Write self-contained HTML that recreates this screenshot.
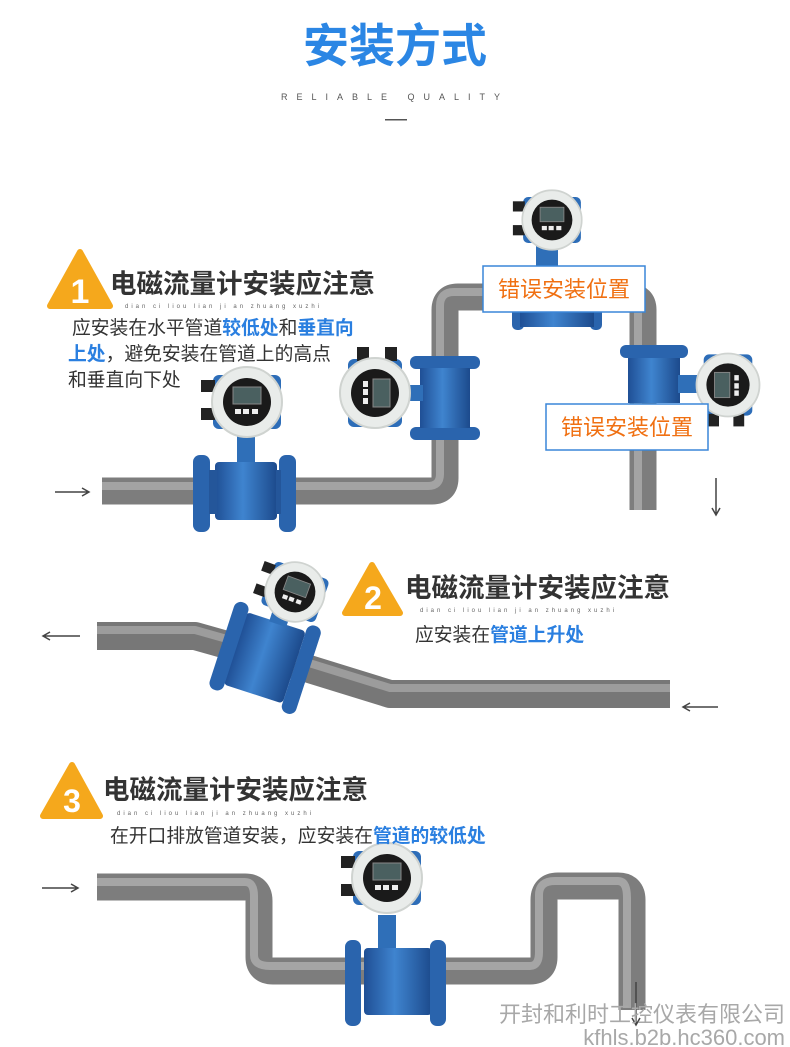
<!DOCTYPE html>
<html><head><meta charset="utf-8"><style>
html,body{margin:0;padding:0;background:#fff}
svg{display:block}
.cn{font-family:"Liberation Sans","Noto Sans CJK SC",sans-serif}
</style></head><body>
<svg width="790" height="1047" viewBox="0 0 790 1047" xmlns="http://www.w3.org/2000/svg" class="cn">
<defs>
<linearGradient id="bl" x1="0" x2="1" y1="0" y2="0"><stop offset="0" stop-color="#1f4f95"/><stop offset="0.45" stop-color="#3f84cf"/><stop offset="1" stop-color="#1c4a8c"/></linearGradient>
<g id="head">
  <rect x="-34" y="-27" width="68" height="54" rx="6" fill="#2d6db8"/>
  <rect x="-46" y="-22" width="14" height="12" fill="#222"/>
  <rect x="-46" y="6" width="14" height="12" fill="#222"/>
  <circle r="35" fill="#e9ecea" stroke="#cfd3d0" stroke-width="2"/>
  <circle r="24" fill="#1a1a1a"/>
  <rect x="-14" y="-15" width="28" height="17" fill="#4a6060" stroke="#888" stroke-width="1"/>
  <rect x="-12" y="7" width="6" height="5" fill="#eee"/><rect x="-4" y="7" width="6" height="5" fill="#eee"/>
  <rect x="5" y="7" width="6" height="5" fill="#eee"/>
</g>
</defs>

<!-- Title -->
<text x="395" y="62" text-anchor="middle" font-size="46" font-weight="bold" fill="#2b86e4">安装方式</text>
<text x="395" y="100" text-anchor="middle" font-size="9" fill="#555" letter-spacing="9">RELIABLE  QUALITY</text>
<rect x="385" y="119" width="22" height="1.5" fill="#555"/>

<!-- Section 1 pipe -->
<path d="M102 491 H432 Q445 491 445 478 V310 Q445 297 458 297 H630 Q643 297 643 310 V510" fill="none" stroke="#7d7d7d" stroke-width="27"/>
<path d="M102 486 H428 Q440 486 440 474 V306 Q440 292 454 292 H630 Q638 292 638 305 V510" fill="none" stroke="#a3a3a3" stroke-width="8"/>
<path d="M55 492 H88 M82 488 L89 492 L82 496" stroke="#444" stroke-width="1.5" fill="none"/>
<path d="M716 478 V514 M712 508 L716 515 L720 508" stroke="#444" stroke-width="1.5" fill="none"/>

<!-- Meter 1 -->
<rect x="237" y="435" width="18" height="30" fill="#2f6fb8"/>
<rect x="215" y="462" width="62" height="58" rx="4" fill="url(#bl)"/>
<rect x="193" y="455" width="17" height="77" rx="7" fill="#2a64ad"/>
<rect x="279" y="455" width="17" height="77" rx="7" fill="#2a64ad"/>
<rect x="209" y="470" width="8" height="44" fill="#24569a"/><rect x="276" y="470" width="5" height="44" fill="#24569a"/>
<use href="#head" x="247" y="402"/>

<!-- Meter 2 -->
<rect x="410" y="356" width="70" height="13" rx="6" fill="#2a64ad"/>
<rect x="410" y="427" width="70" height="13" rx="6" fill="#2a64ad"/>
<rect x="420" y="368" width="50" height="60" fill="url(#bl)"/>
<rect x="395" y="385" width="28" height="16" fill="#2f6fb8"/>
<g transform="translate(375,393) rotate(90)"><use href="#head"/></g>

<!-- Meter 3 top -->
<rect x="536" y="245" width="22" height="30" fill="#2f6fb8"/>
<rect x="512" y="300" width="12" height="30" rx="5" fill="#2a64ad"/>
<rect x="590" y="300" width="12" height="30" rx="5" fill="#2a64ad"/>
<rect x="520" y="305" width="74" height="22" fill="url(#bl)"/>
<g transform="translate(552,220) scale(0.85)"><use href="#head"/></g>

<!-- Meter 4 -->
<rect x="620" y="345" width="68" height="13" rx="6" fill="#2a64ad"/>
<rect x="628" y="358" width="52" height="45" fill="url(#bl)"/>
<rect x="678" y="375" width="25" height="18" fill="#2f6fb8"/>
<g transform="translate(728,385) rotate(-90) scale(0.9)"><use href="#head"/></g>

<!-- Error boxes -->
<rect x="483" y="266" width="162" height="46" fill="#fff" stroke="#3a86d8" stroke-width="1.5"/>
<text x="564" y="297" text-anchor="middle" font-size="22" fill="#f07012">错误安装位置</text>
<rect x="546" y="404" width="162" height="46" fill="#fff" stroke="#3a86d8" stroke-width="1.5"/>
<text x="627" y="435" text-anchor="middle" font-size="22" fill="#f07012">错误安装位置</text>

<!-- Section 1 heading -->
<path d="M80 252 L110 306 H50 Z" fill="#f5a81c" stroke="#f5a81c" stroke-width="6" stroke-linejoin="round"/>
<text x="80" y="303" text-anchor="middle" font-size="34" font-weight="bold" fill="#fff">1</text>
<text x="110" y="293" font-size="26.5" font-weight="bold" fill="#333">电磁流量计安装应注意</text>
<text x="125" y="308" font-size="6" fill="#666" letter-spacing="3">dian ci liou lian ji an zhuang xuzhi</text>
<text x="72" y="334" font-size="18.8" fill="#333">应安装在水平管道<tspan fill="#2a7fe0" font-weight="bold">较低处</tspan>和<tspan fill="#2a7fe0" font-weight="bold">垂直向</tspan></text>
<text x="68" y="360" font-size="18.8" fill="#333"><tspan fill="#2a7fe0" font-weight="bold">上处</tspan>，避免安装在管道上的高点</text>
<text x="68" y="386" font-size="18.8" fill="#333">和垂直向下处</text>

<!-- Section 2 -->
<path d="M97 636 H195 L280 660 L390 694 H670" fill="none" stroke="#777" stroke-width="28" stroke-linejoin="round"/>
<path d="M97 630 H195 L280 654 L390 688 H670" fill="none" stroke="#9c9c9c" stroke-width="8" stroke-linejoin="round"/>
<path d="M80 636 H44 M50 632 L43 636 L50 640" stroke="#444" stroke-width="1.5" fill="none"/>
<path d="M718 707 H684 M690 703 L683 707 L690 711" stroke="#444" stroke-width="1.5" fill="none"/>
<g transform="translate(265,660) rotate(18)">
  <rect x="-32" y="-40" width="62" height="76" rx="4" fill="url(#bl)"/>
  <rect x="-46" y="-48" width="15" height="92" rx="7" fill="#2a64ad"/>
  <rect x="30" y="-48" width="15" height="92" rx="7" fill="#2a64ad"/>
  <rect x="-8" y="-70" width="18" height="32" fill="#2f6fb8"/>
</g>
<g transform="translate(295,592) rotate(20) scale(0.85)"><use href="#head"/></g>
<path d="M372 565 L400 613 H345 Z" fill="#f5a81c" stroke="#f5a81c" stroke-width="6" stroke-linejoin="round"/>
<text x="373" y="609" text-anchor="middle" font-size="32" font-weight="bold" fill="#fff">2</text>
<text x="405" y="597" font-size="26.5" font-weight="bold" fill="#333">电磁流量计安装应注意</text>
<text x="420" y="612" font-size="6" fill="#666" letter-spacing="3">dian ci liou lian ji an zhuang xuzhi</text>
<text x="415" y="641" font-size="18.8" fill="#333">应安装在<tspan fill="#2a7fe0" font-weight="bold">管道上升处</tspan></text>

<!-- Section 3 -->
<path d="M97 887 H245 Q259 887 259 901 V957 Q259 971 273 971 H530 Q544 971 544 957 V900 Q544 886 558 886 H618 Q632 886 632 900 V1010" fill="none" stroke="#7d7d7d" stroke-width="27"/>
<path d="M97 882 H245 Q254 882 254 896 V955 Q254 966 270 966 H530 Q539 966 539 952 V895 Q539 881 555 881 H618 Q627 881 627 898 V1008" fill="none" stroke="#a5a5a5" stroke-width="8"/>
<path d="M42 888 H77 M71 884 L78 888 L71 892" stroke="#444" stroke-width="1.5" fill="none"/>
<path d="M636 982 V1024 M632 1018 L636 1025 L640 1018" stroke="#444" stroke-width="1.5" fill="none"/>
<rect x="378" y="915" width="18" height="35" fill="#2f6fb8"/>
<rect x="364" y="948" width="68" height="67" rx="4" fill="url(#bl)"/>
<rect x="345" y="940" width="16" height="86" rx="7" fill="#2a64ad"/>
<rect x="430" y="940" width="16" height="86" rx="7" fill="#2a64ad"/>
<use href="#head" x="387" y="878"/>
<path d="M72 765 L100 816 H43 Z" fill="#f5a81c" stroke="#f5a81c" stroke-width="6" stroke-linejoin="round"/>
<text x="72" y="812" text-anchor="middle" font-size="32" font-weight="bold" fill="#fff">3</text>
<text x="103" y="799" font-size="26.5" font-weight="bold" fill="#333">电磁流量计安装应注意</text>
<text x="117" y="815" font-size="6" fill="#666" letter-spacing="3">dian ci liou lian ji an zhuang xuzhi</text>
<text x="110" y="842" font-size="18.8" fill="#333">在开口排放管道安装，应安装在<tspan fill="#2a7fe0" font-weight="bold">管道的较低处</tspan></text>

<!-- Watermark -->
<text x="785" y="1022" text-anchor="end" font-size="22" fill="#a8a8a8">开封和利时工控仪表有限公司</text>
<text x="785" y="1045" text-anchor="end" font-size="22" fill="#a8a8a8">kfhls.b2b.hc360.com</text>
</svg>
</body></html>
